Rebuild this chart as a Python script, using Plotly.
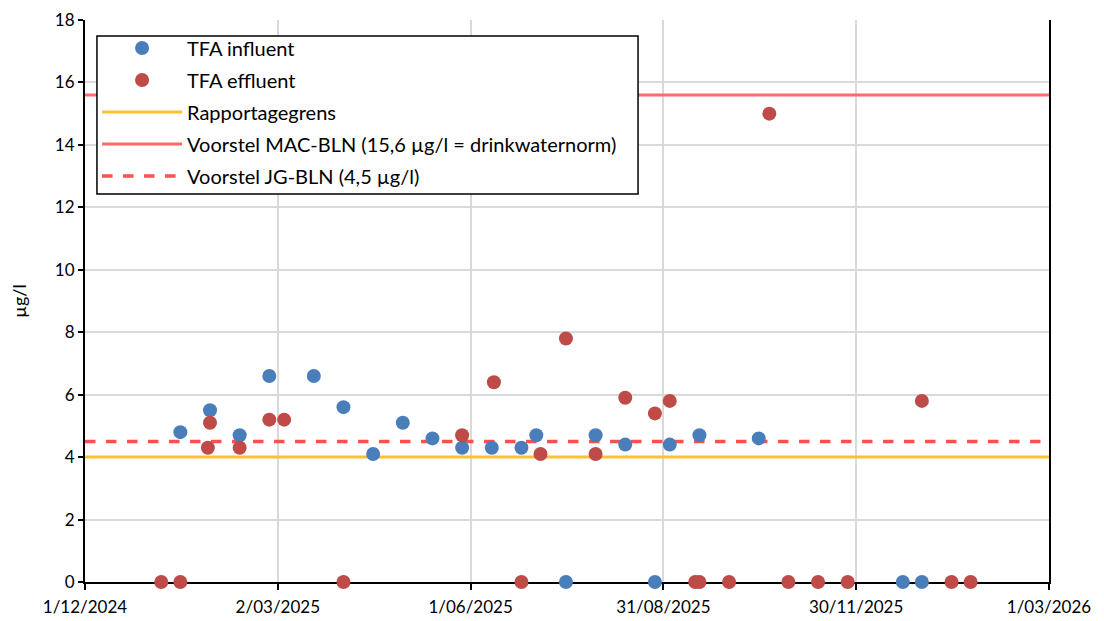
import plotly.graph_objects as go

# TFA measurements (µg/l) per sampling date
influent_dates = [
    "2025-01-15", "2025-01-29", "2025-02-12", "2025-02-26", "2025-03-19",
    "2025-04-02", "2025-04-16", "2025-04-30", "2025-05-14", "2025-05-28",
    "2025-06-11", "2025-06-25", "2025-07-02", "2025-07-16", "2025-07-30",
    "2025-08-13", "2025-08-27", "2025-09-03", "2025-09-17", "2025-10-15",
    "2025-12-22", "2025-12-31",
]
influent_values = [
    4.8, 5.5, 4.7, 6.6, 6.6,
    5.6, 4.1, 5.1, 4.6, 4.3,
    4.3, 4.3, 4.7, 0.0, 4.7,
    4.4, 0.0, 4.4, 4.7, 4.6,
    0.0, 0.0,
]

effluent_dates = [
    "2025-01-06", "2025-01-15", "2025-01-28", "2025-01-29", "2025-02-12",
    "2025-02-26", "2025-03-05", "2025-04-02", "2025-05-28", "2025-06-12",
    "2025-06-25", "2025-07-04", "2025-07-16", "2025-07-30", "2025-08-13",
    "2025-08-27", "2025-09-03", "2025-09-15", "2025-09-17", "2025-10-01",
    "2025-10-20", "2025-10-29", "2025-11-12", "2025-11-26", "2025-12-31",
    "2026-01-14", "2026-01-23",
]
effluent_values = [
    0.0, 0.0, 4.3, 5.1, 4.3,
    5.2, 5.2, 0.0, 4.7, 6.4,
    0.0, 4.1, 7.8, 4.1, 5.9,
    5.4, 5.8, 0.0, 0.0, 0.0,
    15.0, 0.0, 0.0, 0.0, 5.8,
    0.0, 0.0,
]

# Threshold lines
line_span = ["2024-12-01", "2026-03-01"]
rapportagegrens = 4.0
mac_bln = 15.6
jg_bln = 4.5

# Axis ticks
x_tickvals = ["2024-12-01", "2025-03-02", "2025-06-01", "2025-08-31", "2025-11-30", "2026-03-01"]
x_ticktext = ["1/12/2024", "2/03/2025", "1/06/2025", "31/08/2025", "30/11/2025", "1/03/2026"]
y_tickvals = [0, 2, 4, 6, 8, 10, 12, 14, 16, 18]

FONT = "Lato, 'Open Sans', sans-serif"

fig = go.Figure()

# Threshold lines first so the markers sit on top
fig.add_trace(go.Scatter(
    x=line_span, y=[rapportagegrens] * 2, mode="lines", name="Rapportagegrens",
    line=dict(color="#F9C232", width=3), legendgroup="c", legendrank=3,
))
fig.add_trace(go.Scatter(
    x=line_span, y=[mac_bln] * 2, mode="lines",
    name="Voorstel MAC-BLN (15,6 µg/l = drinkwaternorm)",
    line=dict(color="#FF6B6B", width=3), legendgroup="d", legendrank=4,
))
fig.add_trace(go.Scatter(
    x=line_span, y=[jg_bln] * 2, mode="lines", name="Voorstel JG-BLN (4,5 µg/l)",
    line=dict(color="#FF4F4F", width=3.5, dash="dash"), legendgroup="e", legendrank=5,
))
fig.add_trace(go.Scatter(
    x=influent_dates, y=influent_values, mode="markers", name="TFA influent",
    marker=dict(size=14, color="#4A7EBB"), cliponaxis=False,
    legendgroup="a", legendrank=1,
))
fig.add_trace(go.Scatter(
    x=effluent_dates, y=effluent_values, mode="markers", name="TFA effluent",
    marker=dict(size=14, color="#BE4B48"), cliponaxis=False,
    legendgroup="b", legendrank=2,
))

# Framed white panel behind the legend entries
fig.add_shape(
    type="rect", xref="paper", yref="paper",
    x0=0.0124, x1=0.5737, y0=0.6904, y1=0.9715,
    fillcolor="white", line=dict(color="black", width=1.5), layer="above",
)

fig.update_layout(
    width=1104, height=621,
    margin=dict(l=85, r=55, t=20, b=39),
    paper_bgcolor="white", plot_bgcolor="white",
    font=dict(family=FONT, size=17, color="black"),
    showlegend=True,
    legend=dict(
        x=0.0125, y=0.985, xanchor="left", yanchor="top",
        bgcolor="rgba(0,0,0,0)", borderwidth=0,
        font=dict(family=FONT, size=20, color="black"),
        tracegroupgap=3, traceorder="grouped",
        itemwidth=80,
    ),
    xaxis=dict(
        type="date",
        range=[line_span[0], line_span[1]],
        tickmode="array", tickvals=x_tickvals, ticktext=x_ticktext,
        showgrid=True, gridcolor="#D9D9D9", gridwidth=1.5,
        showline=True, linecolor="black", linewidth=2,
        ticks="outside", tickcolor="black", ticklen=6, tickwidth=2,
        tickfont=dict(size=17), zeroline=False,
        ticklabelstandoff=3,
        layer="below traces", automargin=False,
    ),
    yaxis=dict(
        range=[0, 18], tickmode="array", tickvals=y_tickvals,
        showgrid=True, gridcolor="#D9D9D9", gridwidth=1.5,
        showline=True, linecolor="black", linewidth=2, mirror=True,
        ticks="outside", tickcolor="black", ticklen=5, tickwidth=2,
        tickfont=dict(size=17), zeroline=False,
        title=dict(text="µg/l", font=dict(size=18), standoff=24),
        layer="below traces", automargin=False,
    ),
)

fig.write_html("out.html")
